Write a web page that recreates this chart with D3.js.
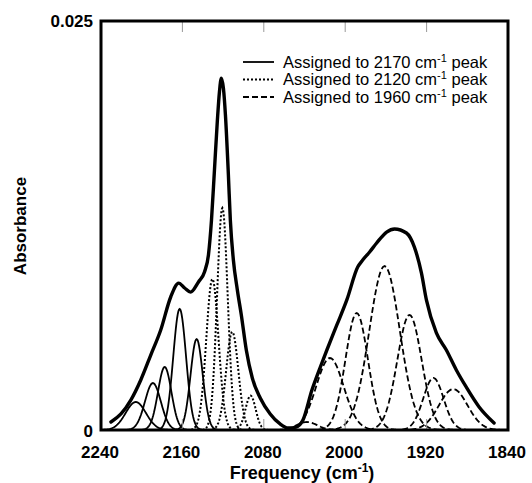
<!DOCTYPE html>
<html>
<head>
<meta charset="utf-8">
<script src="https://cdnjs.cloudflare.com/ajax/libs/d3/7.8.5/d3.min.js"></script>
<style>
  body { margin: 0; background: #fff; }
  svg { font-family: "Liberation Sans", Arial, sans-serif; }
</style>
</head>
<body>
<svg id="chart" width="532" height="483"></svg>
<script>
// measured spectrum (frequency cm-1, absorbance)
const envFreq = [2230.2, 2220.4, 2210.7, 2200.9, 2191.1, 2181.3, 2171.5, 2163.7, 2157.8, 2152, 2144.2, 2138.3,
  2134.4, 2131.4, 2128.5, 2125.6, 2123.6, 2121.7, 2119.7, 2117.7, 2114.8, 2112.9, 2109.9, 2106, 2102.1, 2097.2,
  2091.3, 2083.5, 2073.7, 2064, 2056.1, 2048.3, 2041.5, 2032.7, 2024.8, 2018, 2008.2, 1998.4, 1987.7, 1982.8,
  1976, 1969.1, 1959.3, 1951.5, 1939.8, 1932, 1925.1, 1920.2, 1910.4, 1900.6, 1890.8, 1881.1, 1868.4, 1853.7];
const envAbs = [0.00049, 0.00098, 0.00183, 0.00306, 0.00458, 0.00611, 0.00813, 0.00898, 0.00868, 0.00843, 0.00905, 0.00966,
  0.0107, 0.01284, 0.01589, 0.01895, 0.02066, 0.02151, 0.0209, 0.01925, 0.01559, 0.01284, 0.01039, 0.00856, 0.00703, 0.00489,
  0.00318, 0.00196, 0.00098, 0.00037, 0.00012, 0.00018, 0.00061, 0.00244, 0.00379, 0.00489, 0.00642, 0.00795, 0.00996, 0.01039,
  0.01088, 0.01143, 0.0121, 0.01229, 0.01204, 0.01118, 0.0096, 0.00795, 0.00593, 0.00489, 0.00367, 0.00263, 0.00141, 0.00043];

// fitted gaussian components: centre, height, sigma
const p2170Center = [2205.8, 2189, 2177.4, 2162.7, 2146];
const p2170Height = [0.00171, 0.00287, 0.00385, 0.0074, 0.00556];
const p2170Sigma = [10, 7.8, 6.6, 6.3, 6];

const p2120Center = [2130.5, 2120.7, 2111, 2093];
const p2120Height = [0.00923, 0.01357, 0.006, 0.0021];
const p2120Sigma = [6, 5.2, 6, 5];

const p1960Center = [2037.6, 2015, 1988.7, 1961.3, 1936.8, 1913.3, 1893.8];
const p1960Height = [0.00049, 0.0044, 0.00715, 0.01002, 0.00703, 0.00318, 0.0025];
const p1960Sigma = [10, 13.5, 11, 15, 12, 10, 14];

const xTicks = [2240, 2160, 2080, 2000, 1920, 1840];
const legendLabels = ["2170", "2120", "1960"];

const svg = d3.select("#chart");
const x = d3.scaleLinear().domain([2240, 1840]).range([101, 508]);
const y = d3.scaleLinear().domain([0, 0.025]).range([430, 21]);

svg.append("clipPath").attr("id", "clip")
  .append("rect").attr("x", 101).attr("y", 21).attr("width", 407).attr("height", 409);

const plot = svg.append("g").attr("clip-path", "url(#clip)");

const line = d3.line().x(d => x(d[0])).y(d => y(d[1])).curve(d3.curveMonotoneX);
const env = envFreq.map((f, i) => [f, envAbs[i]]).reverse();

function gauss(c, h, s) {
  return d3.range(-3.6, 3.601, 0.1).map(t => [c + t * s, h * Math.exp(-t * t / 2)]);
}

function drawGroup(centers, heights, sigmas, dash, w) {
  centers.forEach((c, i) => {
    plot.append("path")
      .attr("d", d3.line().x(d => x(d[0])).y(d => y(d[1]))(gauss(c, heights[i], sigmas[i])))
      .attr("fill", "none")
      .attr("stroke", "#000")
      .attr("stroke-width", w)
      .attr("stroke-dasharray", dash);
  });
}

drawGroup(p2170Center, p2170Height, p2170Sigma, null, 1.8);
drawGroup(p2120Center, p2120Height, p2120Sigma, "2,2", 2);
drawGroup(p1960Center, p1960Height, p1960Sigma, "6,3", 1.8);

plot.append("path")
  .attr("d", line(env))
  .attr("fill", "none")
  .attr("stroke", "#000")
  .attr("stroke-width", 3.4)
  .attr("stroke-linejoin", "round")
  .attr("stroke-linecap", "round");

// inner ticks
const tickG = svg.append("g").attr("stroke", "#999").attr("stroke-width", 1);
xTicks.slice(1, -1).forEach(t => {
  tickG.append("line").attr("x1", x(t)).attr("x2", x(t)).attr("y1", 21).attr("y2", 32);
  tickG.append("line").attr("x1", x(t)).attr("x2", x(t)).attr("y1", 430).attr("y2", 419);
});

// frame
svg.append("rect")
  .attr("x", 101).attr("y", 21).attr("width", 407).attr("height", 409)
  .attr("fill", "none").attr("stroke", "#000").attr("stroke-width", 3);

// tick labels
svg.append("g").selectAll("text").data(xTicks).join("text")
  .attr("x", d => x(d) - 1).attr("y", 458)
  .attr("text-anchor", "middle")
  .attr("font-size", 17).attr("font-weight", "bold")
  .text(d => d);

svg.append("text").attr("x", 93).attr("y", 437).attr("text-anchor", "end")
  .attr("font-size", 17).attr("font-weight", "bold").text("0");
svg.append("text").attr("x", 93).attr("y", 27).attr("text-anchor", "end")
  .attr("font-size", 17).attr("font-weight", "bold").text("0.025");

// axis titles
const xt = svg.append("text").attr("x", 302).attr("y", 479).attr("text-anchor", "middle")
  .attr("font-size", 18).attr("font-weight", "bold");
xt.append("tspan").text("Frequency (cm");
xt.append("tspan").attr("dy", -7).attr("font-size", 12).text("-1");
xt.append("tspan").attr("dy", 7).text(")");

svg.append("text")
  .attr("transform", "translate(26,226) rotate(-90)")
  .attr("text-anchor", "middle")
  .attr("font-size", 17).attr("font-weight", "bold")
  .text("Absorbance");

// legend
const dashes = [null, "2,2", "6,3"];
const leg = svg.append("g");
legendLabels.forEach((lab, i) => {
  const ly = 62 + i * 17.5;
  leg.append("line").attr("x1", 243).attr("x2", 274).attr("y1", ly).attr("y2", ly)
    .attr("stroke", "#000").attr("stroke-width", 1.8).attr("stroke-dasharray", dashes[i]);
  const t = leg.append("text").attr("x", 283).attr("y", ly + 5.5).attr("font-size", 16.5);
  t.append("tspan").text("Assigned to " + lab + " cm");
  t.append("tspan").attr("dy", -6).attr("font-size", 11).text("-1");
  t.append("tspan").attr("dy", 6).text(" peak");
});
</script>
</body>
</html>
